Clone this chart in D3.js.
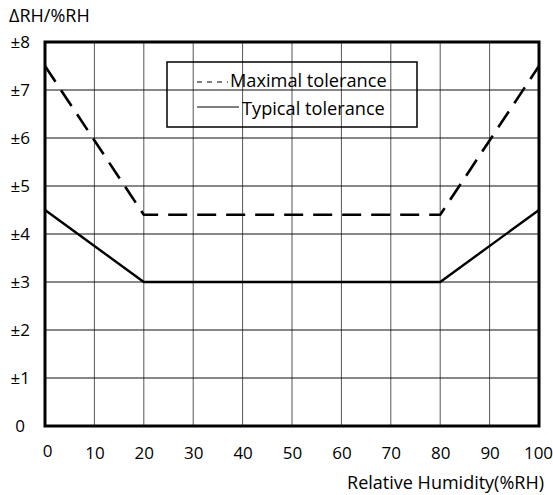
<!DOCTYPE html>
<html><head><meta charset="utf-8">
<script src="https://cdn.jsdelivr.net/npm/d3@7"></script>
<style>body{margin:0;background:#fff}svg{display:block}text{font-family:"Open Sans",Lato,sans-serif;fill:#000}</style>
</head><body><svg id="c" width="553" height="495"></svg>
<script>
const xTicks = [0,10,20,30,40,50,60,70,80,90,100];
const yTicks = [0,1,2,3,4,5,6,7,8];
const yTickLabels = ["0","±1","±2","±3","±4","±5","±6","±7","±8"];
const maxRH = [0,20,80,100];
const maxTol = [7.5,4.4,4.4,7.5];
const typRH = [0,20,80,100];
const typTol = [4.5,3,3,4.5];
const seriesNames = ["Maximal tolerance","Typical tolerance"];

const FONT = "'Open Sans',Lato,sans-serif";
const svg = d3.select("#c");
const x = d3.scaleLinear().domain([0,100]).range([45,539]);
const y = d3.scaleLinear().domain([0,8]).range([426,42]);

// grid
svg.append("g").selectAll("line").data(xTicks.slice(1,-1)).join("line")
  .attr("x1",d=>x(d)).attr("x2",d=>x(d)).attr("y1",y(8)).attr("y2",y(0))
  .attr("stroke","#555").attr("stroke-width",1);
svg.append("g").selectAll("line").data(yTicks.slice(1,-1)).join("line")
  .attr("x1",x(0)).attr("x2",x(100)).attr("y1",d=>y(d)).attr("y2",d=>y(d))
  .attr("stroke","#111").attr("stroke-width",1);

// axes labels
const xa = svg.append("g").attr("transform",`translate(0,${y(0)+27})`)
  .call(d3.axisBottom(x).tickValues(xTicks).tickSize(0).tickPadding(0));
xa.select(".domain").remove();
xa.selectAll("text").attr("font-size",17).attr("font-family",FONT).attr("dy","0.35em")
  .attr("y",d=>d===0?-2:0).attr("dx",d=>d===0?2:(d===100?-1:0));
const ya = svg.append("g").attr("transform",`translate(${x(0)-15},0)`)
  .call(d3.axisLeft(y).tickValues(yTicks).tickFormat((d,i)=>yTickLabels[i]).tickSize(0).tickPadding(0));
ya.select(".domain").remove();
ya.selectAll("text").attr("font-size",17).attr("font-family",FONT).attr("dy","0.35em")
  .attr("dx",d=>d===0?-5:0);

// border
svg.append("rect").attr("x",x(0)).attr("y",y(8)).attr("width",x(100)-x(0)).attr("height",y(0)-y(8))
  .attr("fill","none").attr("stroke","#000").attr("stroke-width",3);

const line = d3.line().x(d=>x(d[0])).y(d=>y(d[1]));
svg.append("path").datum(maxRH.map((v,i)=>[v,maxTol[i]])).attr("d",line)
  .attr("fill","none").attr("stroke","#000").attr("stroke-width",2.6).attr("stroke-dasharray","19,10");
svg.append("path").datum(typRH.map((v,i)=>[v,typTol[i]])).attr("d",line)
  .attr("fill","none").attr("stroke","#000").attr("stroke-width",2.4);

// legend
const lg = svg.append("g");
lg.append("rect").attr("x",167).attr("y",62).attr("width",250).attr("height",65)
  .attr("fill","none").attr("stroke","#000").attr("stroke-width",1.5);
lg.append("line").attr("x1",197).attr("x2",228).attr("y1",82).attr("y2",82)
  .attr("stroke","#000").attr("stroke-width",1.2).attr("stroke-dasharray","5,5");
lg.append("line").attr("x1",197).attr("x2",239).attr("y1",107).attr("y2",107)
  .attr("stroke","#000").attr("stroke-width",1.2);
lg.append("text").attr("x",230).attr("y",81).attr("dy","0.35em").attr("font-size",18.2).text(seriesNames[0]);
lg.append("text").attr("x",242).attr("y",109).attr("dy","0.35em").attr("font-size",18.2).text(seriesNames[1]);

svg.append("text").attr("x",9).attr("y",16).attr("dy","0.35em").attr("font-size",18).text("ΔRH/%RH");
svg.append("text").attr("x",544).attr("y",483).attr("dy","0.35em").attr("text-anchor","end").attr("font-size",18).text("Relative Humidity(%RH)");
</script></body></html>
